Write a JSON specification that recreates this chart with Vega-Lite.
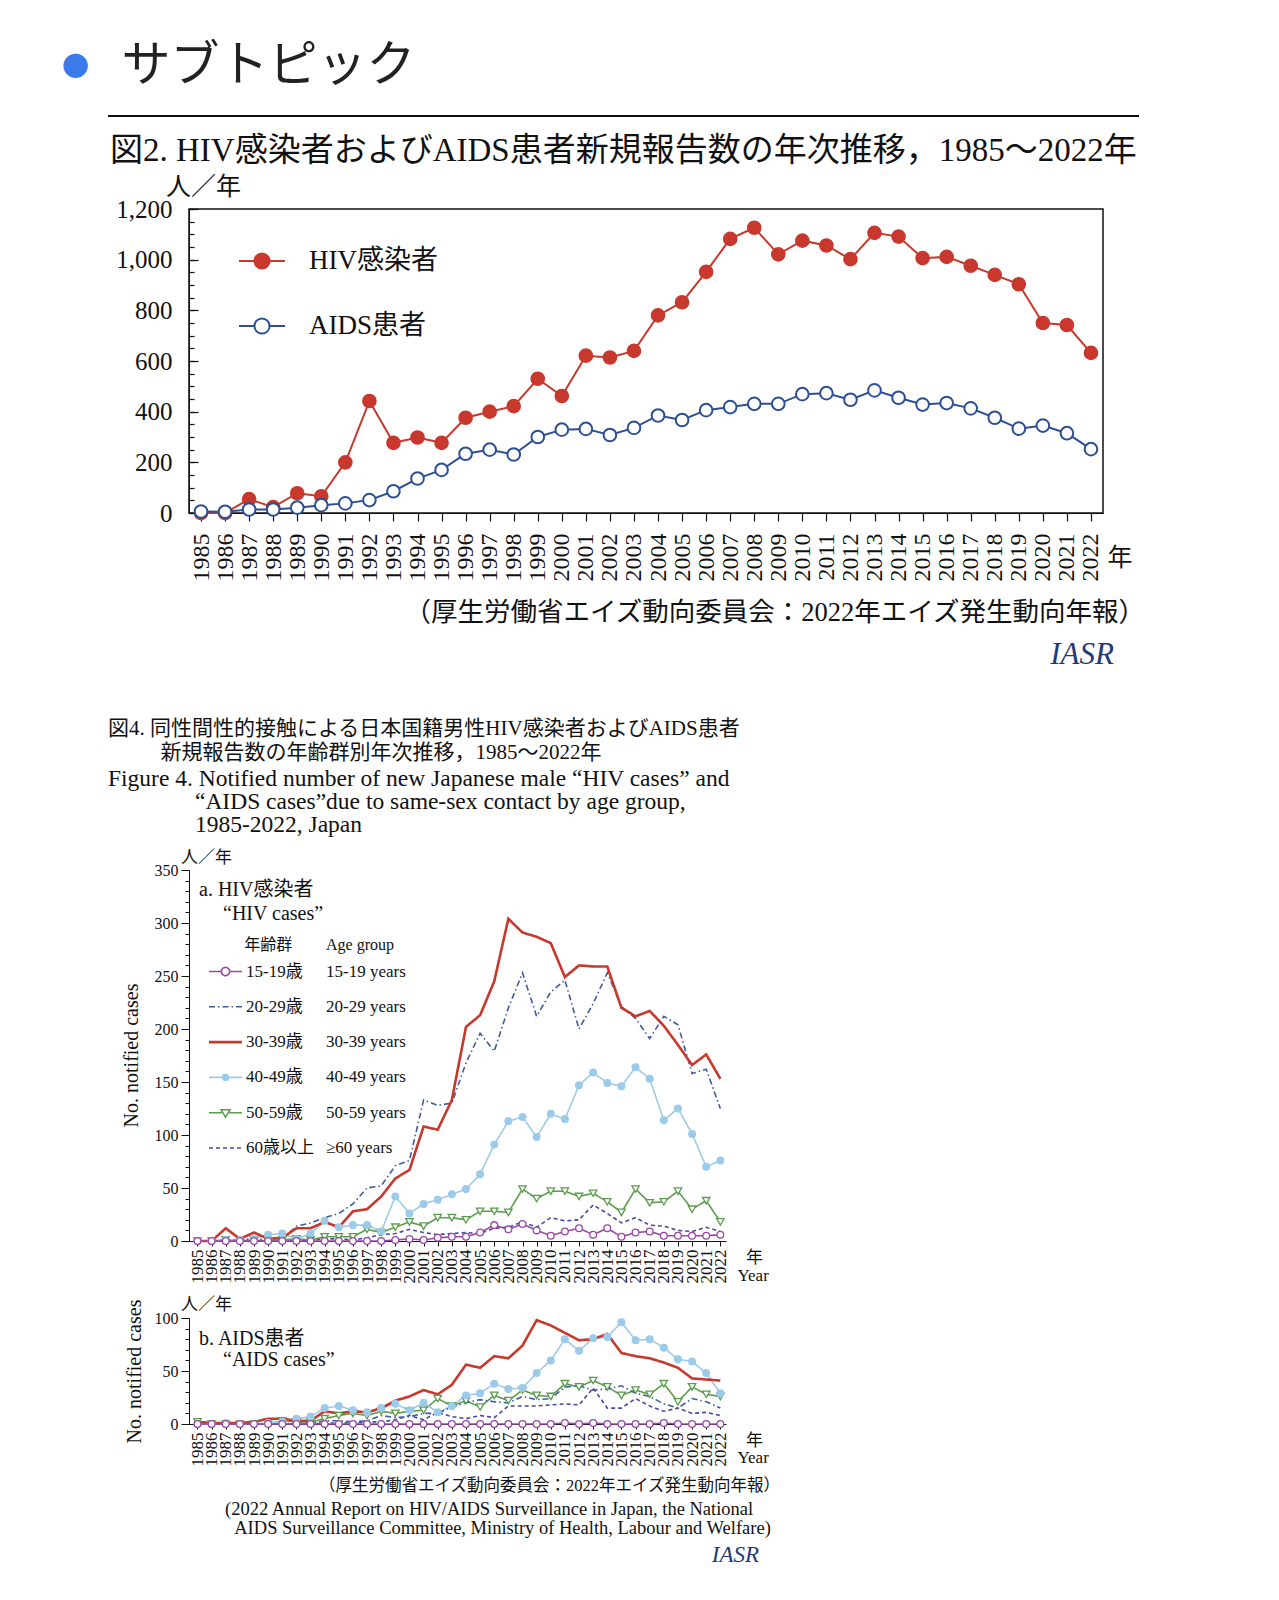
{
"$schema":"https://vega.github.io/schema/vega-lite/v6.json",
"background":"white",
"padding":{"left":61,"top":41,"right":5,"bottom":5},
"spacing":0,
"resolve":{"scale":{"color":"independent","opacity":"independent","strokeDash":"independent","shape":"independent","stroke":"independent","fill":"independent","size":"independent","strokeWidth":"independent"},"legend":{"color":"independent","opacity":"independent"}},
"config":{
 "view":{"stroke":null},
 "font":"Liberation Serif, Noto Sans CJK JP",
 "axis":{"labelFont":"Liberation Serif, Noto Sans CJK JP","titleFont":"Liberation Serif, Noto Sans CJK JP","titleFontWeight":"normal","domainColor":"#111","tickColor":"#111","labelColor":"#111","titleColor":"#111","grid":false},
 "legend":{"labelFont":"Liberation Serif, Noto Sans CJK JP","titleFont":"Liberation Serif, Noto Sans CJK JP","titleFontWeight":"normal","labelColor":"#111","titleColor":"#111"},
 "title":{"font":"Liberation Serif, Noto Sans CJK JP","fontWeight":"normal","color":"#111","subtitleFont":"Liberation Serif, Noto Sans CJK JP","subtitleColor":"#111"}
},
"datasets":{
"fig2":[
{"year":1985,"type":"HIV感染者","n":0},{"year":1986,"type":"HIV感染者","n":0},{"year":1987,"type":"HIV感染者","n":55},{"year":1988,"type":"HIV感染者","n":23},{"year":1989,"type":"HIV感染者","n":78},{"year":1990,"type":"HIV感染者","n":66},{"year":1991,"type":"HIV感染者","n":200},{"year":1992,"type":"HIV感染者","n":442},{"year":1993,"type":"HIV感染者","n":277},{"year":1994,"type":"HIV感染者","n":298},{"year":1995,"type":"HIV感染者","n":277},{"year":1996,"type":"HIV感染者","n":376},{"year":1997,"type":"HIV感染者","n":400},{"year":1998,"type":"HIV感染者","n":422},{"year":1999,"type":"HIV感染者","n":530},{"year":2000,"type":"HIV感染者","n":462},{"year":2001,"type":"HIV感染者","n":621},{"year":2002,"type":"HIV感染者","n":614},{"year":2003,"type":"HIV感染者","n":640},{"year":2004,"type":"HIV感染者","n":780},{"year":2005,"type":"HIV感染者","n":832},{"year":2006,"type":"HIV感染者","n":952},{"year":2007,"type":"HIV感染者","n":1082},{"year":2008,"type":"HIV感染者","n":1126},{"year":2009,"type":"HIV感染者","n":1021},{"year":2010,"type":"HIV感染者","n":1075},{"year":2011,"type":"HIV感染者","n":1056},{"year":2012,"type":"HIV感染者","n":1002},{"year":2013,"type":"HIV感染者","n":1106},{"year":2014,"type":"HIV感染者","n":1091},{"year":2015,"type":"HIV感染者","n":1006},{"year":2016,"type":"HIV感染者","n":1011},{"year":2017,"type":"HIV感染者","n":976},{"year":2018,"type":"HIV感染者","n":940},{"year":2019,"type":"HIV感染者","n":903},{"year":2020,"type":"HIV感染者","n":750},{"year":2021,"type":"HIV感染者","n":742},{"year":2022,"type":"HIV感染者","n":632},
{"year":1985,"type":"AIDS患者","n":6},{"year":1986,"type":"AIDS患者","n":5},{"year":1987,"type":"AIDS患者","n":14},{"year":1988,"type":"AIDS患者","n":14},{"year":1989,"type":"AIDS患者","n":21},{"year":1990,"type":"AIDS患者","n":31},{"year":1991,"type":"AIDS患者","n":38},{"year":1992,"type":"AIDS患者","n":51},{"year":1993,"type":"AIDS患者","n":86},{"year":1994,"type":"AIDS患者","n":136},{"year":1995,"type":"AIDS患者","n":170},{"year":1996,"type":"AIDS患者","n":234},{"year":1997,"type":"AIDS患者","n":250},{"year":1998,"type":"AIDS患者","n":231},{"year":1999,"type":"AIDS患者","n":300},{"year":2000,"type":"AIDS患者","n":329},{"year":2001,"type":"AIDS患者","n":332},{"year":2002,"type":"AIDS患者","n":308},{"year":2003,"type":"AIDS患者","n":336},{"year":2004,"type":"AIDS患者","n":385},{"year":2005,"type":"AIDS患者","n":367},{"year":2006,"type":"AIDS患者","n":406},{"year":2007,"type":"AIDS患者","n":418},{"year":2008,"type":"AIDS患者","n":431},{"year":2009,"type":"AIDS患者","n":431},{"year":2010,"type":"AIDS患者","n":469},{"year":2011,"type":"AIDS患者","n":473},{"year":2012,"type":"AIDS患者","n":447},{"year":2013,"type":"AIDS患者","n":484},{"year":2014,"type":"AIDS患者","n":455},{"year":2015,"type":"AIDS患者","n":428},{"year":2016,"type":"AIDS患者","n":434},{"year":2017,"type":"AIDS患者","n":413},{"year":2018,"type":"AIDS患者","n":376},{"year":2019,"type":"AIDS患者","n":333},{"year":2020,"type":"AIDS患者","n":345},{"year":2021,"type":"AIDS患者","n":315},{"year":2022,"type":"AIDS患者","n":252}
],
"hiv4":[
{"year":1985,"age":"60歳以上","n":0},{"year":1986,"age":"60歳以上","n":0},{"year":1987,"age":"60歳以上","n":0},{"year":1988,"age":"60歳以上","n":0},{"year":1989,"age":"60歳以上","n":0},{"year":1990,"age":"60歳以上","n":0},{"year":1991,"age":"60歳以上","n":0},{"year":1992,"age":"60歳以上","n":0},{"year":1993,"age":"60歳以上","n":1},{"year":1994,"age":"60歳以上","n":2},{"year":1995,"age":"60歳以上","n":2},{"year":1996,"age":"60歳以上","n":1},{"year":1997,"age":"60歳以上","n":3},{"year":1998,"age":"60歳以上","n":6},{"year":1999,"age":"60歳以上","n":7},{"year":2000,"age":"60歳以上","n":11},{"year":2001,"age":"60歳以上","n":8},{"year":2002,"age":"60歳以上","n":6},{"year":2003,"age":"60歳以上","n":7},{"year":2004,"age":"60歳以上","n":8},{"year":2005,"age":"60歳以上","n":7},{"year":2006,"age":"60歳以上","n":12},{"year":2007,"age":"60歳以上","n":13},{"year":2008,"age":"60歳以上","n":18},{"year":2009,"age":"60歳以上","n":13},{"year":2010,"age":"60歳以上","n":22},{"year":2011,"age":"60歳以上","n":19},{"year":2012,"age":"60歳以上","n":20},{"year":2013,"age":"60歳以上","n":34},{"year":2014,"age":"60歳以上","n":26},{"year":2015,"age":"60歳以上","n":17},{"year":2016,"age":"60歳以上","n":22},{"year":2017,"age":"60歳以上","n":15},{"year":2018,"age":"60歳以上","n":14},{"year":2019,"age":"60歳以上","n":10},{"year":2020,"age":"60歳以上","n":9},{"year":2021,"age":"60歳以上","n":13},{"year":2022,"age":"60歳以上","n":9},
{"year":1985,"age":"50-59歳","n":0},{"year":1986,"age":"50-59歳","n":0},{"year":1987,"age":"50-59歳","n":1},{"year":1988,"age":"50-59歳","n":0},{"year":1989,"age":"50-59歳","n":1},{"year":1990,"age":"50-59歳","n":0},{"year":1991,"age":"50-59歳","n":1},{"year":1992,"age":"50-59歳","n":2},{"year":1993,"age":"50-59歳","n":1},{"year":1994,"age":"50-59歳","n":4},{"year":1995,"age":"50-59歳","n":4},{"year":1996,"age":"50-59歳","n":4},{"year":1997,"age":"50-59歳","n":11},{"year":1998,"age":"50-59歳","n":8},{"year":1999,"age":"50-59歳","n":13},{"year":2000,"age":"50-59歳","n":18},{"year":2001,"age":"50-59歳","n":14},{"year":2002,"age":"50-59歳","n":22},{"year":2003,"age":"50-59歳","n":22},{"year":2004,"age":"50-59歳","n":20},{"year":2005,"age":"50-59歳","n":28},{"year":2006,"age":"50-59歳","n":28},{"year":2007,"age":"50-59歳","n":27},{"year":2008,"age":"50-59歳","n":49},{"year":2009,"age":"50-59歳","n":40},{"year":2010,"age":"50-59歳","n":47},{"year":2011,"age":"50-59歳","n":47},{"year":2012,"age":"50-59歳","n":42},{"year":2013,"age":"50-59歳","n":45},{"year":2014,"age":"50-59歳","n":37},{"year":2015,"age":"50-59歳","n":27},{"year":2016,"age":"50-59歳","n":49},{"year":2017,"age":"50-59歳","n":36},{"year":2018,"age":"50-59歳","n":37},{"year":2019,"age":"50-59歳","n":47},{"year":2020,"age":"50-59歳","n":30},{"year":2021,"age":"50-59歳","n":38},{"year":2022,"age":"50-59歳","n":18},
{"year":1985,"age":"40-49歳","n":0},{"year":1986,"age":"40-49歳","n":0},{"year":1987,"age":"40-49歳","n":1},{"year":1988,"age":"40-49歳","n":1},{"year":1989,"age":"40-49歳","n":2},{"year":1990,"age":"40-49歳","n":6},{"year":1991,"age":"40-49歳","n":7},{"year":1992,"age":"40-49歳","n":2},{"year":1993,"age":"40-49歳","n":7},{"year":1994,"age":"40-49歳","n":19},{"year":1995,"age":"40-49歳","n":13},{"year":1996,"age":"40-49歳","n":15},{"year":1997,"age":"40-49歳","n":15},{"year":1998,"age":"40-49歳","n":9},{"year":1999,"age":"40-49歳","n":42},{"year":2000,"age":"40-49歳","n":26},{"year":2001,"age":"40-49歳","n":35},{"year":2002,"age":"40-49歳","n":39},{"year":2003,"age":"40-49歳","n":44},{"year":2004,"age":"40-49歳","n":49},{"year":2005,"age":"40-49歳","n":63},{"year":2006,"age":"40-49歳","n":91},{"year":2007,"age":"40-49歳","n":113},{"year":2008,"age":"40-49歳","n":117},{"year":2009,"age":"40-49歳","n":98},{"year":2010,"age":"40-49歳","n":120},{"year":2011,"age":"40-49歳","n":115},{"year":2012,"age":"40-49歳","n":147},{"year":2013,"age":"40-49歳","n":159},{"year":2014,"age":"40-49歳","n":149},{"year":2015,"age":"40-49歳","n":146},{"year":2016,"age":"40-49歳","n":164},{"year":2017,"age":"40-49歳","n":153},{"year":2018,"age":"40-49歳","n":114},{"year":2019,"age":"40-49歳","n":125},{"year":2020,"age":"40-49歳","n":101},{"year":2021,"age":"40-49歳","n":70},{"year":2022,"age":"40-49歳","n":76},
{"year":1985,"age":"20-29歳","n":0},{"year":1986,"age":"20-29歳","n":0},{"year":1987,"age":"20-29歳","n":1},{"year":1988,"age":"20-29歳","n":1},{"year":1989,"age":"20-29歳","n":2},{"year":1990,"age":"20-29歳","n":1},{"year":1991,"age":"20-29歳","n":2},{"year":1992,"age":"20-29歳","n":14},{"year":1993,"age":"20-29歳","n":17},{"year":1994,"age":"20-29歳","n":22},{"year":1995,"age":"20-29歳","n":26},{"year":1996,"age":"20-29歳","n":35},{"year":1997,"age":"20-29歳","n":50},{"year":1998,"age":"20-29歳","n":52},{"year":1999,"age":"20-29歳","n":71},{"year":2000,"age":"20-29歳","n":76},{"year":2001,"age":"20-29歳","n":133},{"year":2002,"age":"20-29歳","n":128},{"year":2003,"age":"20-29歳","n":130},{"year":2004,"age":"20-29歳","n":168},{"year":2005,"age":"20-29歳","n":196},{"year":2006,"age":"20-29歳","n":179},{"year":2007,"age":"20-29歳","n":220},{"year":2008,"age":"20-29歳","n":253},{"year":2009,"age":"20-29歳","n":212},{"year":2010,"age":"20-29歳","n":235},{"year":2011,"age":"20-29歳","n":246},{"year":2012,"age":"20-29歳","n":200},{"year":2013,"age":"20-29歳","n":224},{"year":2014,"age":"20-29歳","n":253},{"year":2015,"age":"20-29歳","n":221},{"year":2016,"age":"20-29歳","n":210},{"year":2017,"age":"20-29歳","n":191},{"year":2018,"age":"20-29歳","n":212},{"year":2019,"age":"20-29歳","n":204},{"year":2020,"age":"20-29歳","n":158},{"year":2021,"age":"20-29歳","n":162},{"year":2022,"age":"20-29歳","n":125},
{"year":1985,"age":"30-39歳","n":0},{"year":1986,"age":"30-39歳","n":0},{"year":1987,"age":"30-39歳","n":12},{"year":1988,"age":"30-39歳","n":2},{"year":1989,"age":"30-39歳","n":8},{"year":1990,"age":"30-39歳","n":2},{"year":1991,"age":"30-39歳","n":3},{"year":1992,"age":"30-39歳","n":12},{"year":1993,"age":"30-39歳","n":12},{"year":1994,"age":"30-39歳","n":18},{"year":1995,"age":"30-39歳","n":13},{"year":1996,"age":"30-39歳","n":28},{"year":1997,"age":"30-39歳","n":30},{"year":1998,"age":"30-39歳","n":42},{"year":1999,"age":"30-39歳","n":59},{"year":2000,"age":"30-39歳","n":67},{"year":2001,"age":"30-39歳","n":108},{"year":2002,"age":"30-39歳","n":105},{"year":2003,"age":"30-39歳","n":133},{"year":2004,"age":"30-39歳","n":202},{"year":2005,"age":"30-39歳","n":213},{"year":2006,"age":"30-39歳","n":245},{"year":2007,"age":"30-39歳","n":304},{"year":2008,"age":"30-39歳","n":291},{"year":2009,"age":"30-39歳","n":287},{"year":2010,"age":"30-39歳","n":281},{"year":2011,"age":"30-39歳","n":249},{"year":2012,"age":"30-39歳","n":260},{"year":2013,"age":"30-39歳","n":259},{"year":2014,"age":"30-39歳","n":259},{"year":2015,"age":"30-39歳","n":220},{"year":2016,"age":"30-39歳","n":212},{"year":2017,"age":"30-39歳","n":217},{"year":2018,"age":"30-39歳","n":203},{"year":2019,"age":"30-39歳","n":185},{"year":2020,"age":"30-39歳","n":166},{"year":2021,"age":"30-39歳","n":176},{"year":2022,"age":"30-39歳","n":153},
{"year":1985,"age":"15-19歳","n":0},{"year":1986,"age":"15-19歳","n":0},{"year":1987,"age":"15-19歳","n":0},{"year":1988,"age":"15-19歳","n":0},{"year":1989,"age":"15-19歳","n":0},{"year":1990,"age":"15-19歳","n":0},{"year":1991,"age":"15-19歳","n":0},{"year":1992,"age":"15-19歳","n":0},{"year":1993,"age":"15-19歳","n":0},{"year":1994,"age":"15-19歳","n":0},{"year":1995,"age":"15-19歳","n":0},{"year":1996,"age":"15-19歳","n":0},{"year":1997,"age":"15-19歳","n":0},{"year":1998,"age":"15-19歳","n":0},{"year":1999,"age":"15-19歳","n":1},{"year":2000,"age":"15-19歳","n":2},{"year":2001,"age":"15-19歳","n":1},{"year":2002,"age":"15-19歳","n":3},{"year":2003,"age":"15-19歳","n":4},{"year":2004,"age":"15-19歳","n":4},{"year":2005,"age":"15-19歳","n":8},{"year":2006,"age":"15-19歳","n":15},{"year":2007,"age":"15-19歳","n":11},{"year":2008,"age":"15-19歳","n":16},{"year":2009,"age":"15-19歳","n":10},{"year":2010,"age":"15-19歳","n":5},{"year":2011,"age":"15-19歳","n":9},{"year":2012,"age":"15-19歳","n":12},{"year":2013,"age":"15-19歳","n":6},{"year":2014,"age":"15-19歳","n":12},{"year":2015,"age":"15-19歳","n":4},{"year":2016,"age":"15-19歳","n":8},{"year":2017,"age":"15-19歳","n":9},{"year":2018,"age":"15-19歳","n":5},{"year":2019,"age":"15-19歳","n":5},{"year":2020,"age":"15-19歳","n":5},{"year":2021,"age":"15-19歳","n":5},{"year":2022,"age":"15-19歳","n":6}
],
"aids4":[
{"year":1985,"age":"60歳以上","n":0},{"year":1986,"age":"60歳以上","n":0},{"year":1987,"age":"60歳以上","n":0},{"year":1988,"age":"60歳以上","n":0},{"year":1989,"age":"60歳以上","n":0},{"year":1990,"age":"60歳以上","n":0},{"year":1991,"age":"60歳以上","n":0},{"year":1992,"age":"60歳以上","n":0},{"year":1993,"age":"60歳以上","n":0},{"year":1994,"age":"60歳以上","n":1},{"year":1995,"age":"60歳以上","n":1},{"year":1996,"age":"60歳以上","n":1},{"year":1997,"age":"60歳以上","n":2},{"year":1998,"age":"60歳以上","n":2},{"year":1999,"age":"60歳以上","n":4},{"year":2000,"age":"60歳以上","n":8},{"year":2001,"age":"60歳以上","n":4},{"year":2002,"age":"60歳以上","n":11},{"year":2003,"age":"60歳以上","n":7},{"year":2004,"age":"60歳以上","n":5},{"year":2005,"age":"60歳以上","n":8},{"year":2006,"age":"60歳以上","n":6},{"year":2007,"age":"60歳以上","n":17},{"year":2008,"age":"60歳以上","n":17},{"year":2009,"age":"60歳以上","n":17},{"year":2010,"age":"60歳以上","n":18},{"year":2011,"age":"60歳以上","n":19},{"year":2012,"age":"60歳以上","n":18},{"year":2013,"age":"60歳以上","n":34},{"year":2014,"age":"60歳以上","n":15},{"year":2015,"age":"60歳以上","n":15},{"year":2016,"age":"60歳以上","n":24},{"year":2017,"age":"60歳以上","n":17},{"year":2018,"age":"60歳以上","n":12},{"year":2019,"age":"60歳以上","n":15},{"year":2020,"age":"60歳以上","n":10},{"year":2021,"age":"60歳以上","n":11},{"year":2022,"age":"60歳以上","n":8},
{"year":1985,"age":"50-59歳","n":2},{"year":1986,"age":"50-59歳","n":0},{"year":1987,"age":"50-59歳","n":0},{"year":1988,"age":"50-59歳","n":0},{"year":1989,"age":"50-59歳","n":0},{"year":1990,"age":"50-59歳","n":0},{"year":1991,"age":"50-59歳","n":3},{"year":1992,"age":"50-59歳","n":2},{"year":1993,"age":"50-59歳","n":2},{"year":1994,"age":"50-59歳","n":5},{"year":1995,"age":"50-59歳","n":8},{"year":1996,"age":"50-59歳","n":10},{"year":1997,"age":"50-59歳","n":8},{"year":1998,"age":"50-59歳","n":12},{"year":1999,"age":"50-59歳","n":10},{"year":2000,"age":"50-59歳","n":12},{"year":2001,"age":"50-59歳","n":13},{"year":2002,"age":"50-59歳","n":24},{"year":2003,"age":"50-59歳","n":17},{"year":2004,"age":"50-59歳","n":22},{"year":2005,"age":"50-59歳","n":16},{"year":2006,"age":"50-59歳","n":27},{"year":2007,"age":"50-59歳","n":22},{"year":2008,"age":"50-59歳","n":32},{"year":2009,"age":"50-59歳","n":27},{"year":2010,"age":"50-59歳","n":26},{"year":2011,"age":"50-59歳","n":38},{"year":2012,"age":"50-59歳","n":35},{"year":2013,"age":"50-59歳","n":41},{"year":2014,"age":"50-59歳","n":35},{"year":2015,"age":"50-59歳","n":27},{"year":2016,"age":"50-59歳","n":32},{"year":2017,"age":"50-59歳","n":28},{"year":2018,"age":"50-59歳","n":38},{"year":2019,"age":"50-59歳","n":21},{"year":2020,"age":"50-59歳","n":35},{"year":2021,"age":"50-59歳","n":28},{"year":2022,"age":"50-59歳","n":26},
{"year":1985,"age":"40-49歳","n":0},{"year":1986,"age":"40-49歳","n":0},{"year":1987,"age":"40-49歳","n":1},{"year":1988,"age":"40-49歳","n":0},{"year":1989,"age":"40-49歳","n":0},{"year":1990,"age":"40-49歳","n":1},{"year":1991,"age":"40-49歳","n":2},{"year":1992,"age":"40-49歳","n":5},{"year":1993,"age":"40-49歳","n":7},{"year":1994,"age":"40-49歳","n":15},{"year":1995,"age":"40-49歳","n":17},{"year":1996,"age":"40-49歳","n":13},{"year":1997,"age":"40-49歳","n":11},{"year":1998,"age":"40-49歳","n":15},{"year":1999,"age":"40-49歳","n":19},{"year":2000,"age":"40-49歳","n":13},{"year":2001,"age":"40-49歳","n":20},{"year":2002,"age":"40-49歳","n":11},{"year":2003,"age":"40-49歳","n":17},{"year":2004,"age":"40-49歳","n":27},{"year":2005,"age":"40-49歳","n":29},{"year":2006,"age":"40-49歳","n":38},{"year":2007,"age":"40-49歳","n":33},{"year":2008,"age":"40-49歳","n":34},{"year":2009,"age":"40-49歳","n":48},{"year":2010,"age":"40-49歳","n":60},{"year":2011,"age":"40-49歳","n":80},{"year":2012,"age":"40-49歳","n":69},{"year":2013,"age":"40-49歳","n":81},{"year":2014,"age":"40-49歳","n":82},{"year":2015,"age":"40-49歳","n":96},{"year":2016,"age":"40-49歳","n":79},{"year":2017,"age":"40-49歳","n":80},{"year":2018,"age":"40-49歳","n":72},{"year":2019,"age":"40-49歳","n":61},{"year":2020,"age":"40-49歳","n":59},{"year":2021,"age":"40-49歳","n":48},{"year":2022,"age":"40-49歳","n":29},
{"year":1985,"age":"20-29歳","n":0},{"year":1986,"age":"20-29歳","n":0},{"year":1987,"age":"20-29歳","n":0},{"year":1988,"age":"20-29歳","n":0},{"year":1989,"age":"20-29歳","n":0},{"year":1990,"age":"20-29歳","n":0},{"year":1991,"age":"20-29歳","n":0},{"year":1992,"age":"20-29歳","n":1},{"year":1993,"age":"20-29歳","n":1},{"year":1994,"age":"20-29歳","n":3},{"year":1995,"age":"20-29歳","n":3},{"year":1996,"age":"20-29歳","n":2},{"year":1997,"age":"20-29歳","n":3},{"year":1998,"age":"20-29歳","n":8},{"year":1999,"age":"20-29歳","n":6},{"year":2000,"age":"20-29歳","n":7},{"year":2001,"age":"20-29歳","n":10},{"year":2002,"age":"20-29歳","n":10},{"year":2003,"age":"20-29歳","n":16},{"year":2004,"age":"20-29歳","n":20},{"year":2005,"age":"20-29歳","n":23},{"year":2006,"age":"20-29歳","n":21},{"year":2007,"age":"20-29歳","n":20},{"year":2008,"age":"20-29歳","n":26},{"year":2009,"age":"20-29歳","n":23},{"year":2010,"age":"20-29歳","n":24},{"year":2011,"age":"20-29歳","n":35},{"year":2012,"age":"20-29歳","n":36},{"year":2013,"age":"20-29歳","n":32},{"year":2014,"age":"20-29歳","n":33},{"year":2015,"age":"20-29歳","n":36},{"year":2016,"age":"20-29歳","n":29},{"year":2017,"age":"20-29歳","n":26},{"year":2018,"age":"20-29歳","n":19},{"year":2019,"age":"20-29歳","n":15},{"year":2020,"age":"20-29歳","n":24},{"year":2021,"age":"20-29歳","n":21},{"year":2022,"age":"20-29歳","n":15},
{"year":1985,"age":"30-39歳","n":2},{"year":1986,"age":"30-39歳","n":1},{"year":1987,"age":"30-39歳","n":1},{"year":1988,"age":"30-39歳","n":1},{"year":1989,"age":"30-39歳","n":2},{"year":1990,"age":"30-39歳","n":5},{"year":1991,"age":"30-39歳","n":5},{"year":1992,"age":"30-39歳","n":3},{"year":1993,"age":"30-39歳","n":3},{"year":1994,"age":"30-39歳","n":12},{"year":1995,"age":"30-39歳","n":10},{"year":1996,"age":"30-39歳","n":12},{"year":1997,"age":"30-39歳","n":11},{"year":1998,"age":"30-39歳","n":15},{"year":1999,"age":"30-39歳","n":22},{"year":2000,"age":"30-39歳","n":26},{"year":2001,"age":"30-39歳","n":32},{"year":2002,"age":"30-39歳","n":28},{"year":2003,"age":"30-39歳","n":37},{"year":2004,"age":"30-39歳","n":56},{"year":2005,"age":"30-39歳","n":53},{"year":2006,"age":"30-39歳","n":64},{"year":2007,"age":"30-39歳","n":62},{"year":2008,"age":"30-39歳","n":74},{"year":2009,"age":"30-39歳","n":98},{"year":2010,"age":"30-39歳","n":93},{"year":2011,"age":"30-39歳","n":86},{"year":2012,"age":"30-39歳","n":79},{"year":2013,"age":"30-39歳","n":80},{"year":2014,"age":"30-39歳","n":85},{"year":2015,"age":"30-39歳","n":67},{"year":2016,"age":"30-39歳","n":64},{"year":2017,"age":"30-39歳","n":62},{"year":2018,"age":"30-39歳","n":58},{"year":2019,"age":"30-39歳","n":53},{"year":2020,"age":"30-39歳","n":43},{"year":2021,"age":"30-39歳","n":42},{"year":2022,"age":"30-39歳","n":41},
{"year":1985,"age":"15-19歳","n":0},{"year":1986,"age":"15-19歳","n":0},{"year":1987,"age":"15-19歳","n":0},{"year":1988,"age":"15-19歳","n":0},{"year":1989,"age":"15-19歳","n":0},{"year":1990,"age":"15-19歳","n":0},{"year":1991,"age":"15-19歳","n":0},{"year":1992,"age":"15-19歳","n":0},{"year":1993,"age":"15-19歳","n":0},{"year":1994,"age":"15-19歳","n":0},{"year":1995,"age":"15-19歳","n":0},{"year":1996,"age":"15-19歳","n":0},{"year":1997,"age":"15-19歳","n":0},{"year":1998,"age":"15-19歳","n":0},{"year":1999,"age":"15-19歳","n":0},{"year":2000,"age":"15-19歳","n":0},{"year":2001,"age":"15-19歳","n":0},{"year":2002,"age":"15-19歳","n":0},{"year":2003,"age":"15-19歳","n":0},{"year":2004,"age":"15-19歳","n":0},{"year":2005,"age":"15-19歳","n":0},{"year":2006,"age":"15-19歳","n":0},{"year":2007,"age":"15-19歳","n":0},{"year":2008,"age":"15-19歳","n":0},{"year":2009,"age":"15-19歳","n":0},{"year":2010,"age":"15-19歳","n":0},{"year":2011,"age":"15-19歳","n":1},{"year":2012,"age":"15-19歳","n":0},{"year":2013,"age":"15-19歳","n":1},{"year":2014,"age":"15-19歳","n":0},{"year":2015,"age":"15-19歳","n":0},{"year":2016,"age":"15-19歳","n":0},{"year":2017,"age":"15-19歳","n":0},{"year":2018,"age":"15-19歳","n":1},{"year":2019,"age":"15-19歳","n":0},{"year":2020,"age":"15-19歳","n":0},{"year":2021,"age":"15-19歳","n":0},{"year":2022,"age":"15-19歳","n":0}
]
},
"vconcat":[
{
 "width":951,"height":18,
 "data":{"values":[{"part":"rule"}]},
 "mark":{"type":"rule","color":"#111","strokeWidth":2},
 "encoding":{
  "x":{"datum":-81,"type":"quantitative","scale":{"domain":[0,951],"nice":false,"zero":false},"axis":{"orient":"top","title":"サブトピック","titleColor":"#222","titleFont":"Noto Sans CJK JP","titleFontSize":49,"titleFontWeight":"normal","titleAngle":0,"titleX":-68,"titleY":-50.5,"titleAlign":"left","titleBaseline":"middle","labels":false,"ticks":false,"domain":false,"grid":false}},
  "x2":{"datum":950},
  "y":{"datum":1,"type":"quantitative","scale":{"domain":[0,1],"nice":false},"axis":{"title":"●","titleColor":"#3b7be9","titleFont":"Noto Sans CJK JP","titleFontSize":27,"titleAngle":0,"titleX":-114,"titleY":-49,"titleAlign":"center","titleBaseline":"middle","labels":false,"ticks":false,"domain":false,"grid":false}}
 }
},
{
 "width":914,"height":304,
 "view":{"stroke":"#111","strokeWidth":1.5},
 "title":{"text":"図2. HIV感染者およびAIDS患者新規報告数の年次推移，1985〜2022年","anchor":"start","frame":"group","dx":-79,"offset":6,"fontSize":33},
 "data":{"name":"fig2"},
 "encoding":{
  "x":{"field":"year","type":"quantitative","scale":{"domain":[1984.5,2022.5],"nice":false,"zero":false},
   "axis":{"values":[1985,1986,1987,1988,1989,1990,1991,1992,1993,1994,1995,1996,1997,1998,1999,2000,2001,2002,2003,2004,2005,2006,2007,2008,2009,2010,2011,2012,2013,2014,2015,2016,2017,2018,2019,2020,2021,2022],"format":"d","labelAngle":-90,"labelFontSize":24,"labelPadding":12,"labelOverlap":false,"labelFlush":false,"labelBound":false,"tickSize":8,"tickWidth":1.2,"title":"年","titleX":918,"titleY":44,"titleAngle":0,"titleAlign":"left","titleBaseline":"middle","titleFontSize":25}},
  "color":{"field":"type","type":"nominal","scale":{"domain":["HIV感染者","AIDS患者"],"range":["#c8382c","#2c4f96"]},
   "legend":{"orient":"none","legendX":49,"legendY":28,"title":null,"symbolSize":2116,"labelFontSize":27,"labelOffset":23,"rowPadding":28,
    "encode":{"symbols":{"update":{"shape":{"value":"M-1,0H-0.33M0.33,0H1M-0.33,0A0.33,0.33 0 1,0 0.33,0A0.33,0.33 0 1,0 -0.33,0"},"fill":{"signal":"datum.value === 'HIV感染者' ? '#c8382c' : 'white'"},"stroke":{"signal":"datum.value === 'HIV感染者' ? '#c8382c' : '#2c4f96'"},"strokeWidth":{"value":2},"opacity":{"value":1}}}}}}
 },
 "layer":[
  {"mark":{"type":"line","strokeWidth":2},
   "encoding":{"y":{"field":"n","type":"quantitative","scale":{"domain":[0,1200],"nice":false},
    "axis":{"values":[0,200,400,600,800,1000,1200],"labelExpr":"format(datum.value, ',.0f')","labelFontSize":25,"labelPadding":17,"labelOverlap":false,"ticks":false,"grid":true,"gridDash":[9,3000],"gridColor":"#111","gridWidth":1.2,"title":"人／年","titleX":14,"titleY":-23,"titleAngle":0,"titleAlign":"center","titleBaseline":"middle","titleFontSize":25}}}},
  {"mark":{"type":"point","opacity":1,"strokeWidth":2,"size":160},
   "encoding":{"y":{"field":"n","type":"quantitative","axis":{"orient":"left","values":[0,50,100,150,200,250,300,350,400,450,500,550,600,650,700,750,800,850,900,950,1000,1050,1100,1150,1200],"labels":false,"ticks":false,"domain":false,"grid":true,"gridDash":[5,3000],"gridColor":"#111","gridWidth":1.2,"title":null}},
    "fill":{"condition":{"test":"datum.type === 'HIV感染者'","value":"#c8382c"},"value":"white"}}}
 ],
 "resolve":{"axis":{"y":"independent"}}
},
{
 "width":956,"height":18,
 "title":{"text":"（厚生労働省エイズ動向委員会：2022年エイズ発生動向年報）","subtitle":"IASR\u00a0\u00a0\u00a0\u00a0\u200b","orient":"bottom","anchor":"end","frame":"group","offset":0,"fontSize":26.5,"subtitleFont":"Liberation Serif","subtitleFontSize":31,"subtitleFontStyle":"italic","subtitleColor":"#1e3a78","subtitlePadding":13},
 "data":{"values":[]},
 "mark":"point"
},
{
 "width":600,"height":48,
 "title":{"text":["図4. 同性間性的接触による日本国籍男性HIV感染者およびAIDS患者","\u200b\u3000\u3000\u2002新規報告数の年齢群別年次推移，1985〜2022年"],"subtitle":["Figure 4. Notified number of new Japanese male “HIV cases” and","\u200b\u3000\u3000\u3000\u2002\u2009“AIDS cases”due to same-sex contact by age group,","\u200b\u3000\u3000\u3000\u2002\u20091985-2022, Japan"],"orient":"bottom","anchor":"start","frame":"group","dx":-81,"offset":0,"fontSize":21,"lineHeight":23.5,"subtitleFontSize":23.5,"subtitleLineHeight":23,"subtitlePadding":4},
 "data":{"values":[]},
 "mark":"point"
},
{"width":10,"height":12,"data":{"values":[]},"mark":"point"},
{
 "width":537,"height":371,
 "title":{"text":["a. HIV感染者","\u200b\u3000\u2009“HIV cases”"],"anchor":"start","frame":"group","dx":10,"dy":76,"offset":0,"fontSize":20,"lineHeight":24},
 "data":{"name":"hiv4"},
 "encoding":{
  "x":{"field":"year","type":"quantitative","scale":{"domain":[1984.4,2022.4],"nice":false,"zero":false},
   "axis":{"values":[1985,1986,1987,1988,1989,1990,1991,1992,1993,1994,1995,1996,1997,1998,1999,2000,2001,2002,2003,2004,2005,2006,2007,2008,2009,2010,2011,2012,2013,2014,2015,2016,2017,2018,2019,2020,2021,2022],"format":"d","labelAngle":-90,"labelFontSize":17,"labelPadding":3,"labelOverlap":false,"labelFlush":false,"labelBound":false,"tickSize":5,"title":["\u200b\u2002年","Year"],"titleX":548,"titleY":8,"titleAngle":0,"titleAlign":"left","titleBaseline":"top","titleFontSize":17,"titleLineHeight":18}}
 },
 "layer":[
  {"mark":{"type":"line"},
   "encoding":{
    "y":{"field":"n","type":"quantitative","scale":{"domain":[0,350],"nice":false},
     "axis":{"values":[0,50,100,150,200,250,300,350],"labelFontSize":16,"labelPadding":3,"tickSize":8,"labelOverlap":false,"title":"No. notified cases","titleX":-58,"titleY":185,"titleAlign":"center","titleBaseline":"middle","titleFontSize":20}},
    "color":{"field":"age","type":"nominal","scale":{"domain":["15-19歳","20-29歳","30-39歳","40-49歳","50-59歳","60歳以上"],"range":["#9a47a6","#3f5b9c","#c8382c","#9ccbea","#5b9d4d","#474a9e"]},
     "legend":{"orient":"none","legendX":28,"legendY":67,"title":"\u200b\u3000\u2002\u2009年齢群","titleFontSize":16,"titlePadding":10,"symbolSize":1089,"labelFontSize":17,"labelOffset":12,"rowPadding":17.3,
      "encode":{"symbols":{"update":{
       "shape":{"signal":"datum.value === '15-19歳' ? 'M-1,0H-0.25M0.25,0H1M-0.25,0A0.25,0.25 0 1,0 0.25,0A0.25,0.25 0 1,0 -0.25,0' : datum.value === '40-49歳' ? 'M-1,0H1M-0.18,0A0.18,0.18 0 1,0 0.18,0A0.18,0.18 0 1,0 -0.18,0' : datum.value === '50-59歳' ? 'M-1,0H-0.23M0.23,0H1M-0.27,-0.18H0.27L0,0.27Z' : 'M-1,0H1'"},
       "fill":{"signal":"datum.value === '40-49歳' ? '#9ccbea' : (datum.value === '15-19歳' || datum.value === '50-59歳') ? 'white' : 'transparent'"},
       "stroke":{"signal":"datum.value === '15-19歳' ? '#9a47a6' : datum.value === '20-29歳' ? '#3f5b9c' : datum.value === '30-39歳' ? '#c8382c' : datum.value === '40-49歳' ? '#9ccbea' : datum.value === '50-59歳' ? '#5b9d4d' : '#474a9e'"},
       "strokeDash":{"signal":"datum.value === '20-29歳' ? [6,3,1.5,3] : datum.value === '60歳以上' ? [4,3] : [1,0]"},
       "strokeWidth":{"signal":"datum.value === '30-39歳' ? 2.6 : 1.6"},
       "opacity":{"value":1}}}}}},
    "strokeDash":{"field":"age","type":"nominal","scale":{"domain":["15-19歳","20-29歳","30-39歳","40-49歳","50-59歳","60歳以上"],"range":[[1,0],[6,3,1.5,3],[1,0],[1,0],[1,0],[4,3]]},"legend":null},
    "opacity":{"field":"age","type":"ordinal","scale":{"range":[1,1]},
     "legend":{"orient":"none","legendX":137,"legendY":67,"title":"Age group","titleFontSize":16,"titlePadding":10,"symbolSize":1,"labelFontSize":17,"labelOffset":-17,"rowPadding":17.3,"labelExpr":"datum.label === '60歳以上' ? '≥60 years' : replace(datum.label, '歳', ' years')",
      "encode":{"symbols":{"update":{"shape":{"value":"M-1,0H1"},"opacity":{"value":0},"fill":{"value":"transparent"},"stroke":{"value":"transparent"}}}}}},
    "strokeWidth":{"condition":{"test":"datum.age === '30-39歳'","value":2.6},"value":1.6}
   }},
  {"transform":[{"filter":{"field":"age","oneOf":["15-19歳","40-49歳","50-59歳"]}}],
   "mark":{"type":"point","opacity":1,"strokeWidth":1.3},
   "encoding":{
    "y":{"field":"n","type":"quantitative","axis":{"orient":"left","values":[0,10,20,30,40,50,60,70,80,90,100,110,120,130,140,150,160,170,180,190,200,210,220,230,240,250,260,270,280,290,300,310,320,330,340,350],"labels":false,"tickSize":4,"domain":false,"title":"人／年","titleX":17,"titleY":-13,"titleAngle":0,"titleAlign":"center","titleBaseline":"middle","titleFontSize":17}},
    "shape":{"field":"age","type":"nominal","scale":{"domain":["15-19歳","40-49歳","50-59歳"],"range":["circle","circle","triangle-down"]},"legend":null},
    "stroke":{"field":"age","type":"nominal","scale":{"domain":["15-19歳","40-49歳","50-59歳"],"range":["#9a47a6","#9ccbea","#5b9d4d"]},"legend":null},
    "fill":{"condition":{"test":"datum.age === '40-49歳'","value":"#9ccbea"},"value":"white"},
    "size":{"condition":{"test":"datum.age === '50-59歳'","value":55},"value":45}
   }}
 ],
 "resolve":{"axis":{"y":"independent"}}
},
{"width":10,"height":12,"data":{"values":[]},"mark":"point"},
{
 "width":537,"height":106,
 "title":{"text":["b. AIDS患者","\u200b\u3000\u2009“AIDS cases”"],"anchor":"start","frame":"group","dx":10,"dy":75,"offset":0,"fontSize":20,"lineHeight":21.5},
 "data":{"name":"aids4"},
 "encoding":{
  "x":{"field":"year","type":"quantitative","scale":{"domain":[1984.4,2022.4],"nice":false,"zero":false},
   "axis":{"values":[1985,1986,1987,1988,1989,1990,1991,1992,1993,1994,1995,1996,1997,1998,1999,2000,2001,2002,2003,2004,2005,2006,2007,2008,2009,2010,2011,2012,2013,2014,2015,2016,2017,2018,2019,2020,2021,2022],"format":"d","labelAngle":-90,"labelFontSize":17,"labelPadding":3,"labelOverlap":false,"labelFlush":false,"labelBound":false,"tickSize":5,"title":["\u200b\u2002年","Year"],"titleX":548,"titleY":8,"titleAngle":0,"titleAlign":"left","titleBaseline":"top","titleFontSize":17,"titleLineHeight":17}}
 },
 "layer":[
  {"mark":{"type":"line"},
   "encoding":{
    "y":{"field":"n","type":"quantitative","scale":{"domain":[0,100],"nice":false},
     "axis":{"values":[0,50,100],"labelFontSize":16,"labelPadding":3,"tickSize":8,"labelOverlap":false,"title":"No. notified cases","titleX":-55,"titleY":53,"titleAlign":"center","titleBaseline":"middle","titleFontSize":20}},
    "color":{"field":"age","type":"nominal","scale":{"domain":["15-19歳","20-29歳","30-39歳","40-49歳","50-59歳","60歳以上"],"range":["#9a47a6","#3f5b9c","#c8382c","#9ccbea","#5b9d4d","#474a9e"]},"legend":null},
    "strokeDash":{"field":"age","type":"nominal","scale":{"domain":["15-19歳","20-29歳","30-39歳","40-49歳","50-59歳","60歳以上"],"range":[[1,0],[6,3,1.5,3],[1,0],[1,0],[1,0],[4,3]]},"legend":null},
    "strokeWidth":{"condition":{"test":"datum.age === '30-39歳'","value":2.6},"value":1.6}
   }},
  {"transform":[{"filter":{"field":"age","oneOf":["15-19歳","40-49歳","50-59歳"]}}],
   "mark":{"type":"point","opacity":1,"strokeWidth":1.3},
   "encoding":{
    "y":{"field":"n","type":"quantitative","axis":{"orient":"left","values":[0,10,20,30,40,50,60,70,80,90,100],"labels":false,"tickSize":4,"domain":false,"title":"人／年","titleX":17,"titleY":-14,"titleAngle":0,"titleAlign":"center","titleBaseline":"middle","titleFontSize":17}},
    "shape":{"field":"age","type":"nominal","scale":{"domain":["15-19歳","40-49歳","50-59歳"],"range":["circle","circle","triangle-down"]},"legend":null},
    "stroke":{"field":"age","type":"nominal","scale":{"domain":["15-19歳","40-49歳","50-59歳"],"range":["#9a47a6","#9ccbea","#5b9d4d"]},"legend":null},
    "fill":{"condition":{"test":"datum.age === '40-49歳'","value":"#9ccbea"},"value":"white"},
    "size":{"condition":{"test":"datum.age === '50-59歳'","value":55},"value":45}
   }}
 ],
 "resolve":{"axis":{"y":"independent"}}
},
{
 "width":591,"height":12,
 "title":{"text":"（厚生労働省エイズ動向委員会：2022年エイズ発生動向年報）","orient":"bottom","anchor":"end","frame":"group","offset":0,"fontSize":16.5},
 "data":{"values":[]},
 "mark":"point"
},
{
 "width":600,"height":5,
 "title":{"text":["(2022 Annual Report on HIV/AIDS Surveillance in Japan, the National","\u200b\u2002AIDS Surveillance Committee, Ministry of Health, Labour and Welfare)"],"orient":"bottom","anchor":"start","frame":"group","dx":36,"offset":0,"fontSize":18.5,"lineHeight":18.5},
 "data":{"values":[]},
 "mark":"point"
},
{
 "width":570,"height":7,
 "title":{"text":"IASR","orient":"bottom","anchor":"end","frame":"group","offset":0,"font":"Liberation Serif","fontSize":23,"fontStyle":"italic","color":"#1e3a78"},
 "data":{"values":[]},
 "mark":"point"
}
]
}
